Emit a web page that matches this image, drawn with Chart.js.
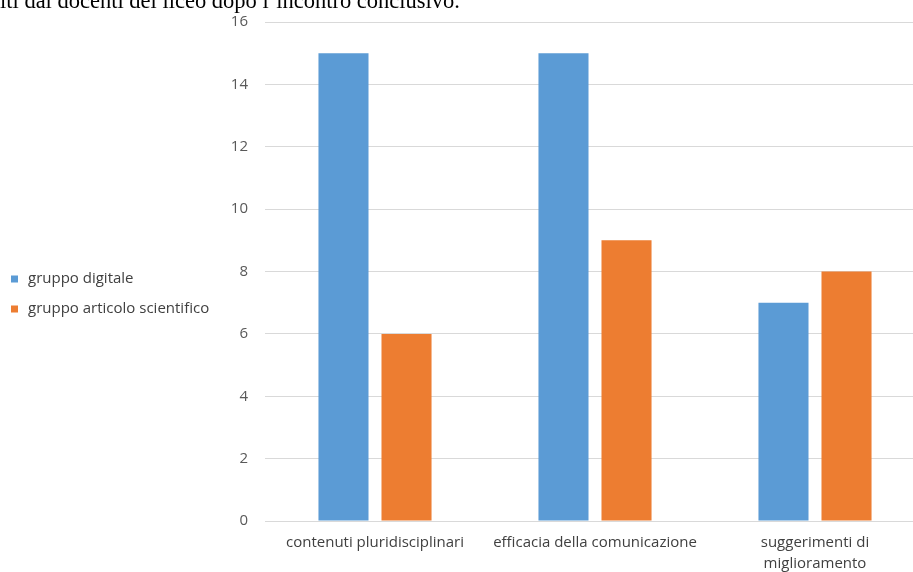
<!DOCTYPE html>
<html>
<head>
<meta charset="utf-8">
<script src="https://cdn.jsdelivr.net/npm/chart.js@4/dist/chart.umd.min.js"></script>
<style>
html,body{margin:0;padding:0;background:#fff;overflow:hidden;width:913px;height:572px;}
#wrap{position:absolute;left:0;top:0;width:925px;height:572px;}
#cap{position:absolute;left:0;top:-12px;font-family:"Liberation Serif","Times New Roman",serif;font-size:22.5px;line-height:26px;color:#000;white-space:nowrap;z-index:2;}
</style>
</head>
<body>
<div id="cap">iti dai docenti del liceo dopo l’incontro conclusivo.</div>
<div id="wrap"><canvas id="c" width="925" height="572"></canvas></div>
<script>
const categories = [["contenuti pluridisciplinari"], ["efficacia della comunicazione"], ["suggerimenti di", "miglioramento"]];
const seriesNames = ["gruppo digitale", "gruppo articolo scientifico"];
const digitale = [15, 15, 7];
const articolo = [6, 9, 8];
const yTicks = [0, 2, 4, 6, 8, 10, 12, 14, 16];

const colors = ["#5B9BD5", "#ED7D31"];
const FONT = "Open Sans";

const legendPlugin = {
  id: 'sideLegend',
  afterDraw(chart) {
    const ctx = chart.ctx;
    ctx.save();
    ctx.font = "15px " + FONT;
    ctx.textBaseline = "middle";
    ctx.textAlign = "left";
    const ys = [279, 309];
    chart.data.datasets.forEach((ds, i) => {
      ctx.fillStyle = ds.backgroundColor;
      ctx.fillRect(11, ys[i] - 3.5, 7, 7);
      ctx.fillStyle = "#404040";
      ctx.fillText(ds.label, 28, ys[i]);
    });
    ctx.restore();
  }
};

new Chart(document.getElementById('c'), {
  type: 'bar',
  data: {
    labels: categories,
    datasets: [
      { label: seriesNames[0], data: digitale, backgroundColor: colors[0] },
      { label: seriesNames[1], data: articolo, backgroundColor: colors[1] }
    ]
  },
  options: {
    responsive: false,
    animation: false,
    devicePixelRatio: 1,
    categoryPercentage: 0.573,
    barPercentage: 0.794,
    layout: { padding: { top: 22, left: 0, right: 0, bottom: 0 } },
    plugins: { legend: { display: false }, tooltip: { enabled: false } },
    scales: {
      x: {
        grid: { display: false, drawTicks: false },
        border: { color: "#d9d9d9", width: 1 },
        ticks: { color: "#404040", font: { family: FONT, size: 15, lineHeight: 1.35 }, padding: 12, maxRotation: 0, autoSkip: false },
        afterFit(s) { s.height = 51; s.paddingLeft = 0; s.paddingRight = 0; }
      },
      y: {
        min: 0, max: 16,
        afterBuildTicks(s) { s.ticks = yTicks.map(v => ({ value: v })); },
        grid: { color: "#d9d9d9", lineWidth: 1, drawTicks: false },
        border: { display: false },
        ticks: { color: "#595959", font: { family: FONT, size: 15 }, padding: 17 },
        afterFit(s) { s.width = 265; s.paddingTop = 0; s.paddingBottom = 0; }
      }
    }
  },
  plugins: [legendPlugin]
});
</script>
</body>
</html>
